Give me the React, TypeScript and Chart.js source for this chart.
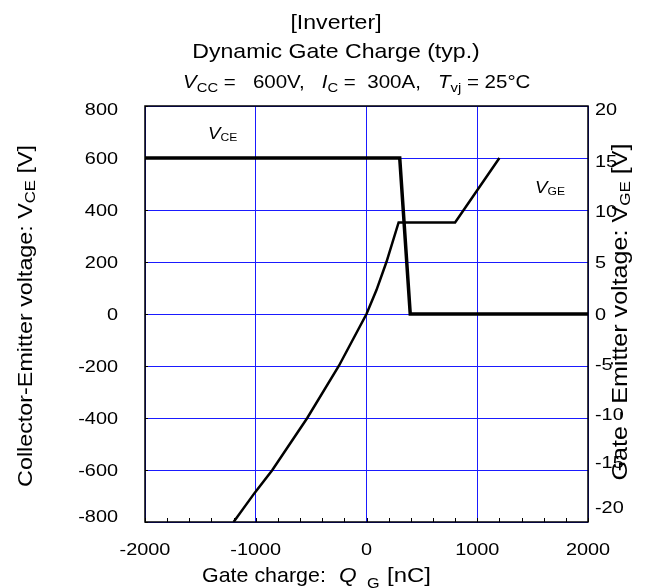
import { useEffect, useRef } from 'react';
import { Chart, registerables } from 'chart.js';

Chart.register(...registerables);

// Collector-emitter voltage (left axis) against gate charge
const vceCharge = [-2000, 300, 395, 2000];
const vceVoltage = [600, 600, 0, 0];

// Gate-emitter voltage (right axis) against gate charge
const vgeCharge = [-1200, -1010, -850, -535, -250, 0, 90, 180, 290, 800, 1200];
const vgeVoltage = [-20, -17.2, -15, -10, -5, 0, 2.3, 5, 8.8, 8.8, 15];

// Axis ticks
const chargeTicks = [-2000, -1000, 0, 1000, 2000];
const chargeMinorTicks = [
  -1800, -1600, -1400, -1200, -800, -600, -400, -200,
  200, 400, 600, 800, 1200, 1400, 1600, 1800,
];
const vceTicks = [-800, -600, -400, -200, 0, 200, 400, 600, 800];
const vgeTicks = [-20, -15, -10, -5, 0, 5, 10, 15, 20];

const titleLines = ['[Inverter]', 'Dynamic Gate Charge (typ.)'];

const FONT = '"Liberation Sans", Arial, sans-serif';
const GRID_BLUE = '#1a1aff';

type Run = { t: string; size: number; italic?: boolean; dy?: number };

function drawRuns(
  ctx: CanvasRenderingContext2D,
  runs: Run[],
  x: number,
  y: number,
  sx: number,
  align: 'left' | 'center' | 'right'
) {
  ctx.textAlign = 'left';
  ctx.textBaseline = 'alphabetic';
  const widths = runs.map((r) => {
    ctx.font = `${r.italic ? 'italic ' : ''}${r.size}px ${FONT}`;
    return ctx.measureText(r.t).width * sx;
  });
  const total = widths.reduce((a, b) => a + b, 0);
  let cx = align === 'left' ? x : align === 'center' ? x - total / 2 : x - total;
  runs.forEach((r, i) => {
    ctx.font = `${r.italic ? 'italic ' : ''}${r.size}px ${FONT}`;
    ctx.save();
    ctx.translate(cx, y + (r.dy || 0));
    ctx.scale(sx, 1);
    ctx.fillText(r.t, 0, 0);
    ctx.restore();
    cx += widths[i];
  });
}

function drawText(
  ctx: CanvasRenderingContext2D,
  t: string,
  x: number,
  y: number,
  size: number,
  sx: number,
  italic = false
) {
  drawRuns(ctx, [{ t, size, italic }], x, y, sx, 'left');
}

function drawRotated(
  ctx: CanvasRenderingContext2D,
  runs: Run[],
  x: number,
  y: number,
  sx: number
) {
  ctx.save();
  ctx.translate(x, y);
  ctx.rotate(-Math.PI / 2);
  drawRuns(ctx, runs, 0, 0, sx, 'center');
  ctx.restore();
}

// Baseline shift of the right-hand tick labels, per value
const rightLabelShift: Record<string, number> = {
  '20': 9, '15': 9, '10': 7, '5': 6, '0': 6, '-5': 4, '-10': 2, '-15': -2, '-20': -9,
};

const framePlugin = {
  id: 'frameAndTicks',
  beforeDatasetsDraw(chart: Chart) {
    const { ctx, chartArea } = chart;
    const { left, right, top, bottom } = chartArea;
    const xs = chart.scales.x;
    const ys = chart.scales.y;
    ctx.save();
    ctx.strokeStyle = '#000';
    ctx.lineWidth = 1;
    // minor + major ticks on the charge axis, pointing inward
    [...chargeTicks, ...chargeMinorTicks].forEach((v) => {
      const px = Math.round(xs.getPixelForValue(v)) + 0.5;
      ctx.beginPath();
      ctx.moveTo(px, bottom);
      ctx.lineTo(px, bottom - 4);
      ctx.stroke();
    });
    vceTicks.forEach((v) => {
      const py = Math.round(ys.getPixelForValue(v)) + 0.5;
      ctx.beginPath();
      ctx.moveTo(left, py);
      ctx.lineTo(left + 3, py);
      ctx.stroke();
    });
    ctx.lineWidth = 1.5;
    ctx.strokeRect(left, top, right - left, bottom - top);
    ctx.restore();
  },
  afterDraw(chart: Chart) {
    const { ctx, chartArea } = chart;
    const xs = chart.scales.x;
    const ys = chart.scales.y;
    const y1 = chart.scales.y1;
    ctx.save();
    ctx.fillStyle = '#000';

    // Title block
    drawRuns(ctx, [{ t: titleLines[0], size: 21 }], 336, 29, 1.1, 'center');
    drawRuns(ctx, [{ t: titleLines[1], size: 21 }], 336, 58, 1.1, 'center');
    drawRuns(
      ctx,
      [
        { t: 'V', size: 18, italic: true },
        { t: 'CC', size: 13, dy: 4 },
        { t: ' =   600V,   ', size: 18 },
        { t: 'I', size: 18, italic: true },
        { t: 'C', size: 13, dy: 4 },
        { t: ' =  300A,   ', size: 18 },
        { t: 'T', size: 18, italic: true },
        { t: 'vj', size: 13, dy: 4 },
        { t: ' = 25°C', size: 18 },
      ],
      183,
      88,
      1.14,
      'left'
    );

    // Tick labels
    vceTicks.forEach((v) => {
      const py = ys.getPixelForValue(v);
      let shift = 6;
      if (v === 800) shift = 9;
      if (v === -800) shift = 0;
      drawRuns(ctx, [{ t: String(v), size: 17 }], 118, py + shift, 1.17, 'right');
    });
    vgeTicks.forEach((v) => {
      const py = y1.getPixelForValue(v);
      drawRuns(ctx, [{ t: String(v), size: 17 }], 595, py + (rightLabelShift[String(v)] ?? 6), 1.17, 'left');
    });
    chargeTicks.forEach((v) => {
      const px = xs.getPixelForValue(v);
      drawRuns(ctx, [{ t: String(v), size: 17 }], px, 555, 1.17, 'center');
    });

    // Charge axis title
    drawText(ctx, 'Gate charge:', 202, 582, 21, 1.02);
    drawText(ctx, 'Q', 339, 582, 21, 1.08, true);
    drawText(ctx, 'G', 367, 588, 15, 1.08);
    drawText(ctx, '[nC]', 387, 582, 21, 1.14);

    const midY = (chartArea.top + chartArea.bottom) / 2;
    drawRotated(
      ctx,
      [
        { t: 'Collector-Emitter voltage: V', size: 21 },
        { t: 'CE', size: 15, dy: 3 },
        { t: ' [V]', size: 21 },
      ],
      32,
      midY + 2,
      1.11
    );
    drawRotated(
      ctx,
      [
        { t: 'Gate - Emitter voltage: V', size: 22 },
        { t: 'GE', size: 15, dy: 3 },
        { t: ' [V]', size: 22 },
      ],
      627,
      midY - 2,
      1.14
    );

    // Curve labels
    drawRuns(
      ctx,
      [
        { t: 'V', size: 17, italic: true },
        { t: 'CE', size: 11, dy: 1.5 },
      ],
      208,
      139,
      1.1,
      'left'
    );
    drawRuns(
      ctx,
      [
        { t: 'V', size: 17, italic: true },
        { t: 'GE', size: 11, dy: 2 },
      ],
      535,
      193,
      1.1,
      'left'
    );
    ctx.restore();
  },
};

export default function App() {
  const canvasRef = useRef<HTMLCanvasElement | null>(null);

  useEffect(() => {
    const canvas = canvasRef.current;
    if (!canvas) return;
    const chart = new Chart(canvas, {
      type: 'scatter',
      data: {
        datasets: [
          {
            label: 'VCE',
            data: vceCharge.map((q, i) => ({ x: q, y: vceVoltage[i] })),
            yAxisID: 'y',
            showLine: true,
            borderColor: '#000',
            borderWidth: 3.5,
            pointRadius: 0,
            tension: 0,
          },
          {
            label: 'VGE',
            data: vgeCharge.map((q, i) => ({ x: q, y: vgeVoltage[i] })),
            yAxisID: 'y1',
            showLine: true,
            borderColor: '#000',
            borderWidth: 2.5,
            pointRadius: 0,
            tension: 0,
          },
        ],
      },
      options: {
        animation: false,
        responsive: false,
        devicePixelRatio: 1,
        layout: { padding: { top: 106, left: 0, right: 0, bottom: 0 } },
        plugins: {
          legend: { display: false },
          title: { display: false },
          tooltip: { enabled: false },
        },
        scales: {
          x: {
            type: 'linear',
            min: -2000,
            max: 2000,
            afterBuildTicks: (s: any) => {
              s.ticks = chargeTicks.map((v) => ({ value: v }));
            },
            afterFit: (s: any) => {
              s.height = 66;
            },
            ticks: { display: false },
            grid: { color: GRID_BLUE, lineWidth: 1, drawTicks: false },
            border: { display: false },
          },
          y: {
            type: 'linear',
            position: 'left',
            min: -800,
            max: 800,
            afterBuildTicks: (s: any) => {
              s.ticks = vceTicks.map((v) => ({ value: v }));
            },
            afterFit: (s: any) => {
              s.width = 145;
            },
            ticks: { display: false },
            grid: { color: GRID_BLUE, lineWidth: 1, drawTicks: false },
            border: { display: false },
          },
          y1: {
            type: 'linear',
            position: 'right',
            min: -20,
            max: 20,
            afterBuildTicks: (s: any) => {
              s.ticks = vgeTicks.map((v) => ({ value: v }));
            },
            afterFit: (s: any) => {
              s.width = 76;
            },
            ticks: { display: false },
            grid: { display: false, drawTicks: false },
            border: { display: false },
          },
        },
      },
      plugins: [framePlugin],
    });
    return () => chart.destroy();
  }, []);

  return (
    <div style={{ position: 'fixed', left: 0, top: 0, width: 664, height: 588, background: '#fff' }}>
      <canvas ref={canvasRef} width={664} height={588} style={{ display: 'block' }} />
    </div>
  );
}
